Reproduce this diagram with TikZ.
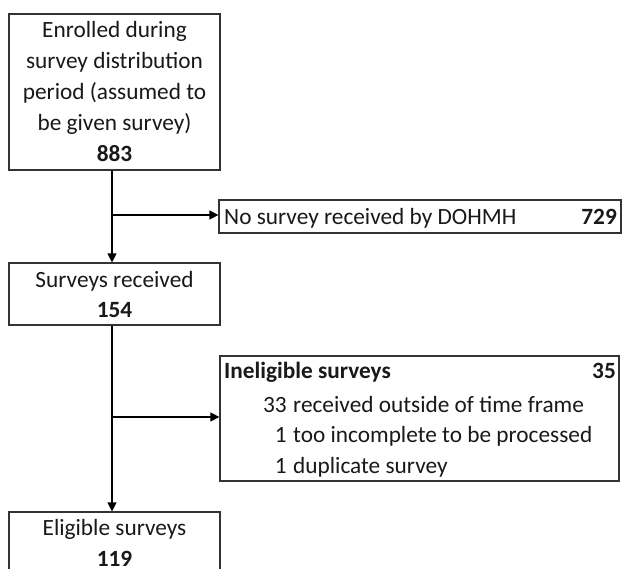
\documentclass[tikz,border=0pt]{standalone}
\usepackage{fontspec}
\setmainfont{Carlito}
\usetikzlibrary{arrows.meta}
\begin{document}
\begin{tikzpicture}[x=1pt,y=-1pt,
  box/.style={draw=black!80,line width=1.2pt,rectangle,inner sep=0pt},
  txt/.style={inner sep=0pt,font=\fontsize{23.3}{31}\selectfont,text=black!90},
  ctr/.style={txt,anchor=base},
  conn/.style={draw=black,line width=1.3pt},
  arr/.style={conn,-{Triangle[length=9pt,width=9pt]}}]
\useasboundingbox (0,0) rectangle (623,569);
\clip (0,0) rectangle (623,569);
\fill[white] (0,0) rectangle (623,569);
% boxes
\node[box,minimum width=211pt,minimum height=156pt] (enr) at (114.5,92) {};
\node[box,minimum width=402pt,minimum height=33pt] (nos) at (420,216.5) {};
\node[box,minimum width=211pt,minimum height=62pt] (rec) at (114.5,294) {};
\node[box,minimum width=399pt,minimum height=125pt] (inel) at (419.5,418.5) {};
\node[box,minimum width=211pt,minimum height=100pt] (elig) at (114.5,562) {};
% texts
\node[ctr] (e1) at (114.5,38) {Enrolled during};
\node[ctr] (e2) at (114.5,69) {survey distribution};
\node[ctr] (e3) at (114.5,100) {period (assumed to};
\node[ctr] (e4) at (114.5,131) {be given survey)};
\node[ctr] (e5) at (114.5,162) {\textbf{883}};
\node[txt,anchor=base west] (nost) at (224,225) {No survey received by DOHMH};
\node[txt,anchor=base east] (nosn) at (617,225) {\textbf{729}};
\node[ctr] (r1) at (114.5,287) {Surveys received};
\node[ctr] (r2) at (114.5,317) {\textbf{154}};
\node[txt,anchor=base west] (inelt) at (224,378) {\textbf{Ineligible surveys}};
\node[txt,anchor=base east] (ineln) at (616,378) {\textbf{35}};
\node[txt,anchor=base east] (n1) at (287,412) {33};
\node[txt,anchor=base west] (t1) at (293,412) {received outside of time frame};
\node[txt,anchor=base east] (n2) at (287,442) {1};
\node[txt,anchor=base west] (t2) at (293,442) {too incomplete to be processed};
\node[txt,anchor=base east] (n3) at (287,473) {1};
\node[txt,anchor=base west] (t3) at (293,473) {duplicate survey};
\node[ctr] (l1) at (114.5,535) {Eligible surveys};
\node[ctr] (l2) at (114.5,566) {\textbf{119}};
% connectors
\coordinate (b1) at (112,215);
\coordinate (b2) at (112,417);
\draw[arr] (enr.south -| b1) -- (rec.north -| b1);
\draw[arr] (b1) -- (nos.west |- b1);
\draw[arr] (rec.south -| b2) -- (elig.north -| b2);
\draw[arr] (b2) -- (inel.west |- b2);
\end{tikzpicture}
\end{document}
